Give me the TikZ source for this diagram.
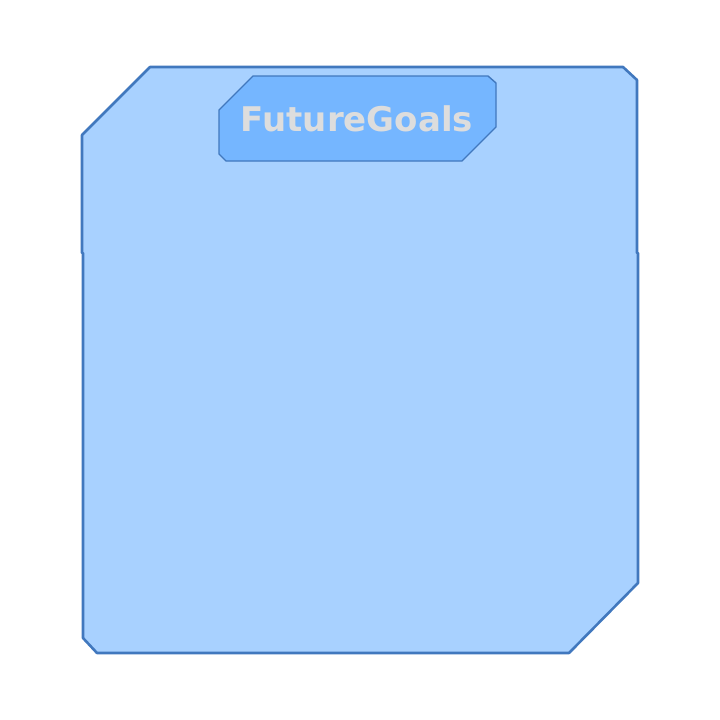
\documentclass[tikz,border=0pt]{standalone}
\usepackage{fontspec}
\setmainfont{DejaVu Sans}
\usepackage{xcolor}
\usepackage{tikz}
\usetikzlibrary{positioning}

\definecolor{panelfill}{HTML}{A8D1FF}
\definecolor{panelline}{HTML}{4178BE}
\definecolor{tagfill}{HTML}{75B6FF}
\definecolor{tagtext}{HTML}{DDDDDD}

\begin{document}
\begin{tikzpicture}[
  x=1pt,y=-1pt,
  panel/.style={draw=panelline,fill=panelfill,line width=2.6pt,line join=round},
  tag/.style={draw=panelline,fill=tagfill,line width=1.4pt,line join=round},
  tagtitle/.style={text=tagtext,font=\bfseries\fontsize{34}{40}\selectfont,inner sep=0pt}
]
\useasboundingbox (0,0) rectangle (720,720);
% outer panel
\draw[panel] (82,135) -- (150,67) -- (623,67) -- (637,80) -- (637,253) -- (638,253)
  -- (638,583) -- (569,653) -- (97,653) -- (83,638) -- (83,253) -- (82,253) -- cycle;
% title tag
\draw[tag] (219,110) -- (253,76) -- (488,76) -- (496,83) -- (496,127) -- (462,161)
  -- (226,161) -- (219,154) -- cycle;
\node[tagtitle] (goals) at (357,119) {FutureGoals};
\end{tikzpicture}
\end{document}
